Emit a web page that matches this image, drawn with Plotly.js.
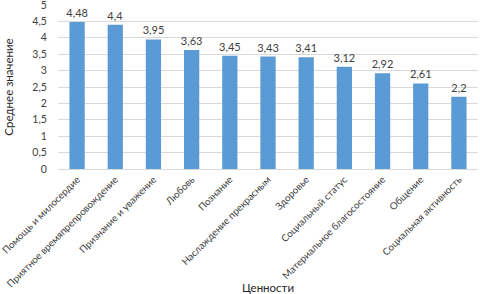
<!DOCTYPE html>
<html><head><meta charset="utf-8">
<script src="https://cdn.plot.ly/plotly-3.0.1.min.js"></script>
<style>html,body{margin:0;padding:0;background:#fff}#c{width:480px;height:294px}</style>
</head><body><div id="c"></div>
<script>
const categories = ["Помощь и милосердие","Приятное времяпрепровождение","Признание и уважение","Любовь","Познание","Наслаждение прекрасным","Здоровье","Социальный статус","Материальное благосостояние","Общение","Социальная активность"];
const values = [4.48, 4.4, 3.95, 3.63, 3.45, 3.43, 3.41, 3.12, 2.92, 2.61, 2.2];
const labels = values.map(v => String(v).replace('.', ','));
const font = "Lato, Open Sans, sans-serif";
Plotly.newPlot('c', [{
  type: 'bar', x: categories, y: values, text: labels, textposition: 'outside',
  constraintext: 'none',
  textfont: {family: font, size: 11, color: '#404040'}, cliponaxis: false,
  marker: {color: '#5b9bd5'}, hoverinfo: 'none'
}], {
  width: 480, height: 294, separators: ', ',
  margin: {l: 58, r: 2, t: 5, b: 125},
  bargap: 0.6, showlegend: false,
  paper_bgcolor: '#fff', plot_bgcolor: '#fff',
  font: {family: font, size: 10, color: '#404040'},
  xaxis: {tickangle: -45, tickfont: {family: font, size: 9.8, color: '#404040'},
    showline: true, linecolor: '#d9d9d9', ticks: '', automargin: false,
    title: {text: 'Ценности', font: {family: font, size: 11.5, color: '#262626'}, standoff: 0}},
  yaxis: {range: [0, 5], dtick: 0.5, gridcolor: '#d9d9d9', zeroline: false, automargin: false,
    ticklabeloverflow: 'allow',
    tickfont: {family: font, size: 10.5, color: '#404040'}, ticklen: 8, ticks: 'outside', tickcolor: 'rgba(0,0,0,0)',
    title: {text: 'Среднее значение', font: {family: font, size: 11.5, color: '#262626'}, standoff: 16}}
}, {staticPlot: true});
</script></body></html>
